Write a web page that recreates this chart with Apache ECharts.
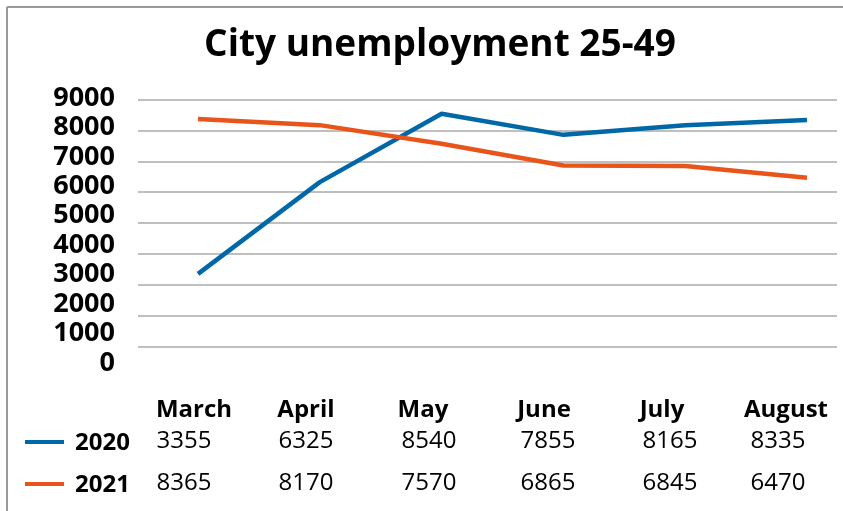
<!DOCTYPE html>
<html>
<head>
<meta charset="utf-8">
<script src="https://cdn.jsdelivr.net/npm/echarts@6/dist/echarts.min.js"></script>
<style>
  html, body { margin: 0; padding: 0; background: #fff; }
  #chart { width: 843px; height: 511px; }
</style>
</head>
<body>
<div id="chart"></div>
<script>
var months = ['March', 'April', 'May', 'June', 'July', 'August'];
var values2020 = [3355, 6325, 8540, 7855, 8165, 8335];
var values2021 = [8365, 8170, 7570, 6865, 6845, 6470];
var seriesNames = ['2020', '2021'];
var colors = ['#0068a6', '#e8541a'];

// table layout (pixel columns of the data table under the chart)
var headerX = [194, 306, 423, 544, 662, 786];
var valueX = [184, 306, 429, 548, 670, 778];
var rowY = [410, 441, 483];

var chart = echarts.init(document.getElementById('chart'));
var font = '"Open Sans", "Noto Sans", sans-serif';

var graphics = [
  // frame: top and left border
  { type: 'line', shape: { x1: 7, y1: 7, x2: 843, y2: 7 }, style: { stroke: '#9a9a9a', lineWidth: 2 } },
  { type: 'line', shape: { x1: 7, y1: 7, x2: 7, y2: 511 }, style: { stroke: '#9a9a9a', lineWidth: 2 } }
];

months.forEach(function (m, i) {
  graphics.push({
    type: 'text', x: headerX[i], y: rowY[0],
    style: { text: m, font: 'bold 24px ' + font, fill: '#000', align: 'center', verticalAlign: 'middle' }
  });
});

[values2020, values2021].forEach(function (vals, r) {
  graphics.push({
    type: 'line', shape: { x1: 25, y1: rowY[r + 1] + 1, x2: 64, y2: rowY[r + 1] + 1 },
    style: { stroke: colors[r], lineWidth: 4 }
  });
  graphics.push({
    type: 'text', x: 75, y: rowY[r + 1] + 2,
    style: { text: seriesNames[r], font: 'bold 24px ' + font, fill: '#000', align: 'left', verticalAlign: 'middle' }
  });
  vals.forEach(function (v, i) {
    graphics.push({
      type: 'text', x: valueX[i], y: rowY[r + 1],
      style: { text: String(v), font: '24px ' + font, fill: '#000', align: 'center', verticalAlign: 'middle' }
    });
  });
});

var option = {
  animation: false,
  title: {
    text: 'City unemployment 25-49',
    left: 435, top: 22, textAlign: 'center',
    textStyle: { fontFamily: font, fontWeight: 'bold', fontSize: 37, color: '#000' }
  },
  grid: [
    // gridlines
    { left: 138, right: 6, top: 99.5, bottom: 133.5 },
    // lines
    { left: 198, right: 36, top: 99.5, bottom: 133.5 },
    // y labels
    { left: 115, width: 10, top: 98, bottom: 148 }
  ],
  xAxis: [
    { gridIndex: 0, type: 'category', data: months, show: false },
    { gridIndex: 1, type: 'category', data: months, boundaryGap: false, show: false },
    { gridIndex: 2, type: 'category', data: months, show: false }
  ],
  yAxis: [
    {
      gridIndex: 0, type: 'value', min: 0, max: 9000, interval: 1000,
      axisLine: { show: false }, axisTick: { show: false }, axisLabel: { show: false },
      splitLine: { show: true, showMinLine: false, lineStyle: { color: '#aaaaaa', width: 1.5 } }
    },
    {
      gridIndex: 1, type: 'value', min: 0, max: 9000, interval: 1000, show: false,
      splitLine: { show: false }
    },
    {
      gridIndex: 2, type: 'value', min: 0, max: 9000, interval: 1000,
      axisLine: { show: false }, axisTick: { show: false }, splitLine: { show: false },
      axisLabel: {
        margin: 0, fontFamily: font, fontWeight: 'bold', fontSize: 27, color: '#000',
        formatter: function (v) { return String(v); }
      }
    }
  ],
  series: [
    {
      name: seriesNames[0], type: 'line', data: values2020, xAxisIndex: 1, yAxisIndex: 1,
      symbol: 'none', lineStyle: { color: colors[0], width: 4.5 }
    },
    {
      name: seriesNames[1], type: 'line', data: values2021, xAxisIndex: 1, yAxisIndex: 1,
      symbol: 'none', lineStyle: { color: colors[1], width: 4.5 }
    }
  ],
  graphic: graphics
};

chart.setOption(option);
</script>
</body>
</html>
